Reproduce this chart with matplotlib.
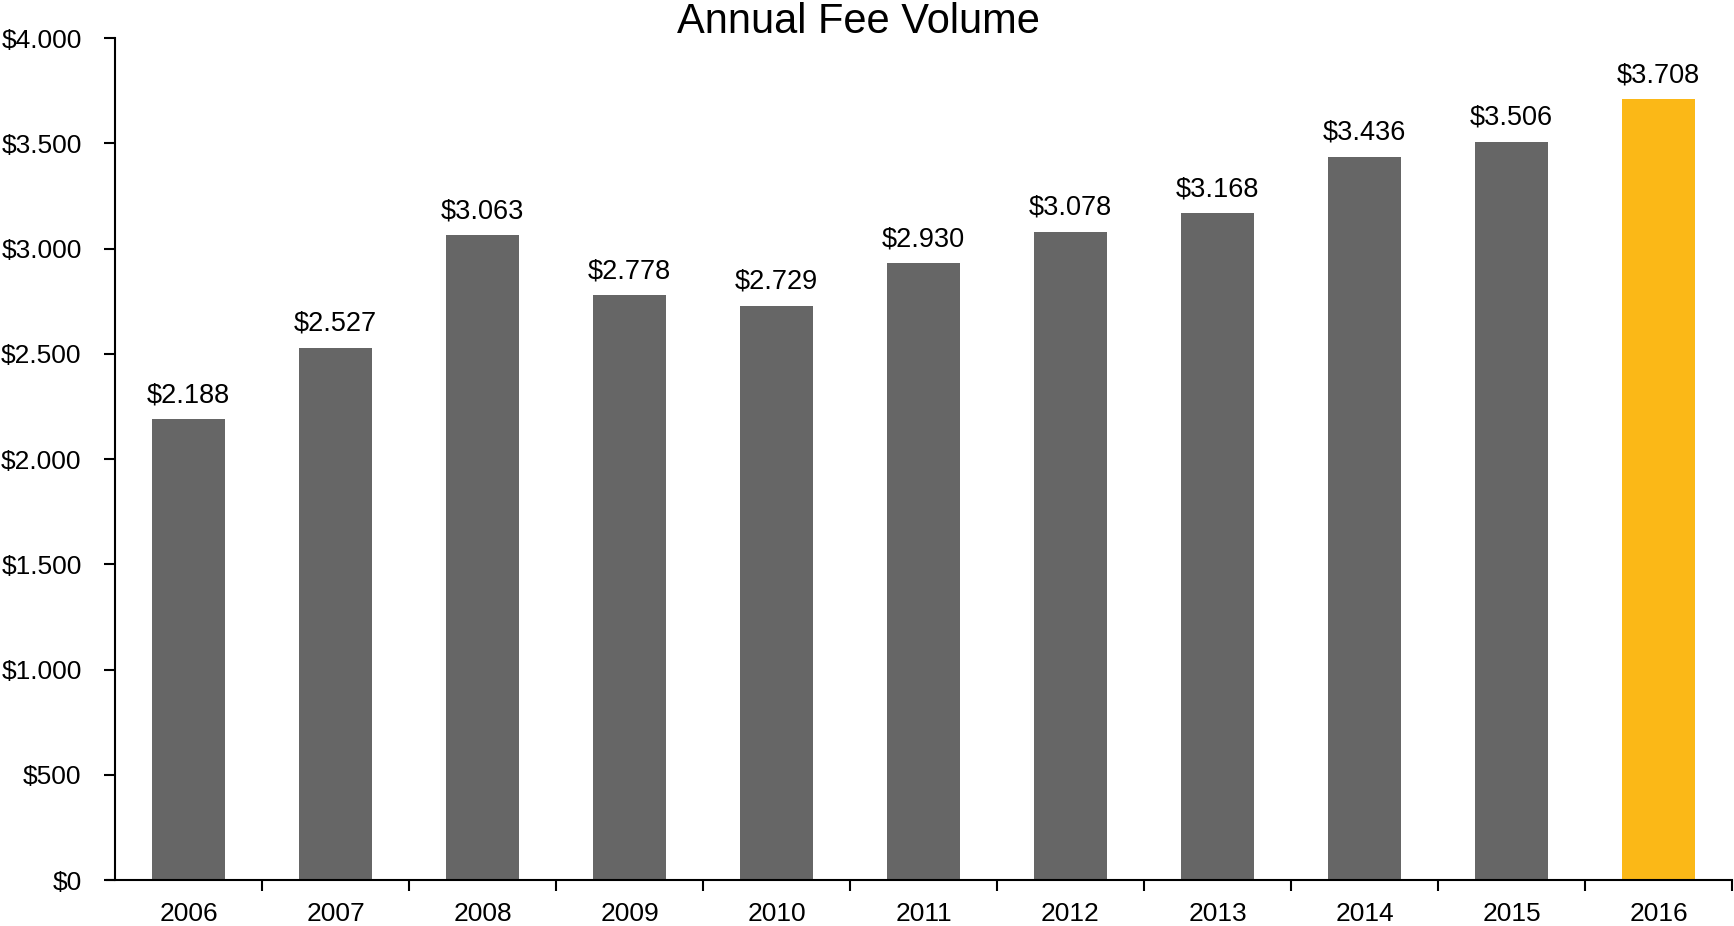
import matplotlib
matplotlib.use("Agg")
import matplotlib.pyplot as plt
from matplotlib.ticker import FuncFormatter, FixedLocator

plt.rcParams['font.family'] = ['Liberation Sans', 'DejaVu Sans']

years = ['2006', '2007', '2008', '2009', '2010', '2011', '2012', '2013', '2014', '2015', '2016']
values = [2188, 2527, 3063, 2778, 2729, 2930, 3078, 3168, 3436, 3506, 3708]
bar_colors = ['#666666'] * 10 + ['#FBB817']
title = 'Annual Fee Volume'

fig = plt.figure(figsize=(17.34, 9.26), dpi=100)
ax = fig.add_axes([115/1734, 1 - 880/926, (1732 - 115)/1734, (880 - 38)/926])

x = list(range(len(years)))
bars = ax.bar(x, values, width=0.5, color=bar_colors, zorder=2)

def money(v):
    return '$' + f'{int(round(v)):,}'.replace(',', '.')

for xi, v in zip(x, values):
    ax.annotate(money(v), (xi, v), xytext=(0, 8), textcoords='offset points',
                ha='center', va='bottom', fontsize=19.5, color='black')

ax.set_xlim(-0.5, len(years) - 0.5)
ax.set_ylim(0, 4000)
ax.set_yticks(range(0, 4001, 500))
ax.yaxis.set_major_formatter(FuncFormatter(lambda v, p: money(v)))

ax.set_xticks(x)
ax.set_xticklabels(years)
ax.xaxis.set_minor_locator(FixedLocator([i + 0.5 for i in range(len(years))]))
ax.tick_params(axis='x', which='major', length=0, pad=16, labelsize=19)
ax.tick_params(axis='x', which='minor', length=8, width=1.5, direction='out')
ax.tick_params(axis='y', length=8, width=1.5, direction='out', pad=16, labelsize=19)

for s in ['top', 'right']:
    ax.spines[s].set_visible(False)
ax.spines['left'].set_linewidth(1.5)
ax.spines['bottom'].set_linewidth(1.5)
ax.spines['bottom'].set_bounds(-0.5 - 8/147, len(years) - 0.5)

fig.text(858/1734, 1 - 33/926, title, ha='center', va='baseline', fontsize=30)

fig.savefig('out.png', dpi=100)
